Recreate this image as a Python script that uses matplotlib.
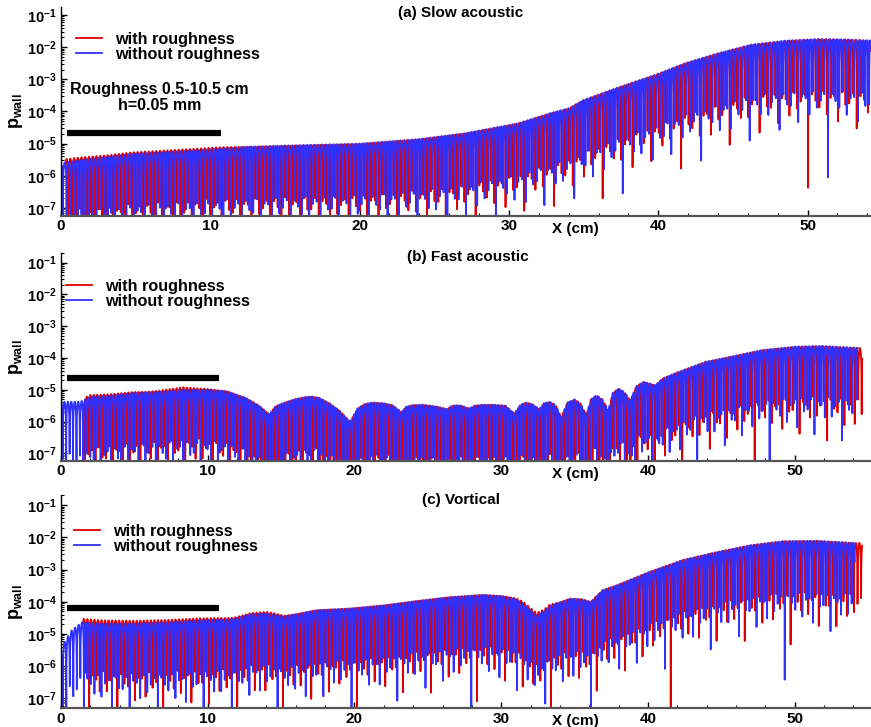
import numpy as np
import matplotlib
matplotlib.use('Agg')
import matplotlib.pyplot as plt
from matplotlib.ticker import MultipleLocator, FixedLocator, FuncFormatter, NullFormatter

plt.rcParams['font.family'] = ['Liberation Sans', 'DejaVu Sans']
plt.rcParams['font.weight'] = 'bold'
plt.rcParams['mathtext.fontset'] = 'custom'
plt.rcParams['mathtext.rm'] = 'Liberation Sans:bold'
plt.rcParams['mathtext.bf'] = 'Liberation Sans:bold'
plt.rcParams['mathtext.it'] = 'Liberation Sans:bold'

# peak envelope of |p_wall| without roughness (x in cm)
# (a) slow acoustic
xa = [0.0, 1.3, 4.8, 9.3, 12.7, 16.0, 19.9, 24.0, 27.0, 30.6, 32.8, 34.0, 35.0,
      37.3, 40.0, 41.8, 44.0, 46.2, 48.5, 50.7, 52.5, 54.6]
pa = [2.5e-6, 3.1e-6, 4.8e-6, 6.3e-6, 8.1e-6, 9e-6, 1.0e-5, 1.4e-5, 2.1e-5, 4.3e-5,
      9e-5, 1.26e-4, 2.3e-4, 5.6e-4, 1.5e-3, 3.2e-3, 6.5e-3, 1.2e-2, 1.6e-2, 1.8e-2,
      1.75e-2, 1.6e-2]

# (b) fast acoustic
xb = [0.0, 1.3, 2.0, 3.3, 4.9, 6.7, 8.3, 10.1, 11.3, 12.6, 13.5, 14.2, 14.6, 15.1, 16.0,
      16.7, 17.1, 17.6, 18.3, 19.0, 19.7, 20.2, 20.7, 21.2, 22.0, 22.6, 23.2, 23.5, 23.9,
      24.7, 25.6, 26.3, 26.6, 26.9, 27.3, 27.8, 28.2, 28.7, 29.5, 30.3, 30.9, 31.3, 31.7,
      32.1, 32.6, 32.9, 33.3, 33.7, 34.1, 34.5, 35.0, 35.4, 35.8, 36.1, 36.5, 36.9, 37.3,
      37.6, 38.0, 38.4, 38.8, 39.2, 39.7, 40.1, 40.5, 41.0, 42.1, 43.9, 46.0, 47.8, 50.1,
      51.8, 54.3]
pb = [4.2e-6, 4.2e-6, 6.0e-6, 6.5e-6, 7.9e-6, 8.6e-6, 1.0e-5, 1.0e-5, 9e-6, 5.6e-6,
      3.2e-6, 1.7e-6, 3.0e-6, 3.8e-6, 5.2e-6, 6.0e-6, 6.2e-6, 5.6e-6, 3.8e-6, 2.2e-6,
      1.0e-6, 2.6e-6, 3.6e-6, 4.0e-6, 3.8e-6, 3.3e-6, 2.0e-6, 2.9e-6, 3.3e-6, 3.4e-6,
      3.0e-6, 2.5e-6, 3.1e-6, 3.3e-6, 3.2e-6, 2.6e-6, 3.2e-6, 3.4e-6, 3.4e-6, 3.2e-6,
      1.8e-6, 3.4e-6, 4.0e-6, 3.6e-6, 2.5e-6, 3.8e-6, 4.2e-6, 3.4e-6, 1.4e-6, 4.0e-6,
      5.0e-6, 3.8e-6, 1.6e-6, 5.0e-6, 6.8e-6, 5.0e-6, 2.3e-6, 8.0e-6, 1.1e-5, 8.5e-6,
      4.7e-6, 1.3e-5, 1.8e-5, 1.6e-5, 1.4e-5, 2.3e-5, 3.7e-5, 7.6e-5, 1.2e-4, 1.8e-4,
      2.3e-4, 2.4e-4, 2.1e-4]

# (c) vortical
xc = [0.0, 0.16, 0.73, 1.4, 2.7, 4.9, 7.2, 9.5, 11.7, 12.9, 14.0, 15.2, 17.4, 19.7,
      22.0, 24.3, 26.5, 28.8, 30.1, 31.0, 31.5, 32.0, 32.4, 32.9, 33.3, 33.8, 34.7, 35.5,
      36.1, 36.9, 37.9, 40.1, 42.4, 44.7, 47.0, 49.2, 51.5, 54.1]
pc = [2e-6, 5e-6, 1.3e-5, 2.3e-5, 2.1e-5, 2.1e-5, 2.3e-5, 2.7e-5, 2.9e-5, 4.1e-5,
      4.4e-5, 3.5e-5, 5.5e-5, 6.2e-5, 7.8e-5, 1.07e-4, 1.4e-4, 1.65e-4, 1.5e-4, 1.2e-4,
      9e-5, 5.5e-5, 3.8e-5, 5e-5, 7.5e-5, 9e-5, 1.26e-4, 1.2e-4, 1.0e-4, 2.3e-4, 3.3e-4,
      8.5e-4, 2.0e-3, 3.5e-3, 5.7e-3, 7.6e-3, 7.8e-3, 6.7e-3]

# with roughness: start / end of the record and ratio to the smooth-wall peaks
red_span = {'a': (0.3, 54.6), 'b': (1.6, 54.6), 'c': (1.5, 54.6)}
blue_span = {'a': (0.0, 54.6), 'b': (0.0, 54.3), 'c': (0.0, 54.1)}
ratio_x = {'a': [0.3, 3.0, 10.5, 13.0, 54.6],
           'b': [1.6, 6.0, 8.3, 10.5, 12.5, 54.6],
           'c': [1.5, 10.5, 12.5, 14.5, 16.0, 30.0, 32.4, 34.0, 54.6]}
ratio_y = {'a': [1.25, 1.12, 1.12, 0.97, 0.97],
           'b': [1.15, 1.05, 1.2, 1.02, 0.98, 0.98],
           'c': [1.3, 1.12, 1.08, 1.12, 1.0, 1.0, 1.2, 1.0, 1.0]}

# half wavelength (cm) of the wall-pressure oscillation in each case
half_wave = {'a': 0.25, 'b': 0.235, 'c': 0.24}
# output points per half wavelength (blue, red)
pts_per_half = (62.618, 60.382)
decades = [-7, -6, -5, -4, -3, -2, -1]

panels = [
    ('a', '(a) Slow acoustic', xa, pa, 54.25, 2.1e-5),
    ('b', '(b) Fast acoustic', xb, pb, 55.2, 2.3e-5),
    ('c', '(c) Vortical', xc, pc, 55.2, 6.6e-5),
]
ylims = {'a': (10**-7.25, 10**-0.75), 'b': (10**-7.24, 10**-0.685), 'c': (10**-7.3, 10**-0.69)}
rects = {'a': [0.070, 0.703, 0.930, 0.2875],
         'b': [0.070, 0.366, 0.930, 0.2865],
         'c': [0.070, 0.026, 0.930, 0.293]}
title_pos = {'a': (0.494, 0.971), 'b': (0.502, 0.979), 'c': (0.494, 0.977)}
leg_pos = {'a': (0.018, 0.88), 'b': (0.006, 0.875), 'c': (0.016, 0.865)}


def wall_signal(xk, pk, span, rx, ry, lam, npts, phase):
    x = np.arange(span[0], span[1], lam / npts)
    env = 10 ** np.interp(x, xk, np.log10(pk)) * np.interp(x, rx, ry)
    return x, env * np.abs(np.cos(np.pi * x / lam + phase))


fig = plt.figure(figsize=(8.71, 7.27), dpi=100)

for key, title, xk, pk, xmax, bar_y in panels:
    ax = fig.add_axes(rects[key])
    lam = half_wave[key]
    x1, p1 = wall_signal(xk, pk, red_span[key], ratio_x[key], ratio_y[key],
                         lam * 1.0008, pts_per_half[1], np.pi / 2)
    x2, p2 = wall_signal(xk, pk, blue_span[key], [0, 60], [1, 1],
                         lam, pts_per_half[0], 0.0)
    ax.plot(x1, p1, color='#dd0000', lw=1.3, label='with roughness')
    ax.plot(x2, p2, color='#3030ff', lw=1.3, label='without roughness')

    # roughness strip
    ax.plot([0.4, 10.75], [bar_y, bar_y], color='black', lw=4.5, solid_capstyle='butt')

    ax.set_yscale('log')
    ax.set_xlim(0, xmax)
    ax.set_ylim(*ylims[key])

    ax.xaxis.set_major_locator(MultipleLocator(10))
    ax.xaxis.set_minor_locator(MultipleLocator(2))
    ax.xaxis.set_major_formatter(FuncFormatter(lambda v, p: '%d' % v))
    ax.yaxis.set_major_locator(FixedLocator([10.0 ** d for d in decades]))
    minors = [m * 10.0 ** d for d in [-8] + decades for m in range(2, 10)]
    minors = [v for v in minors if ylims[key][0] < v < ylims[key][1]]
    ax.yaxis.set_minor_locator(FixedLocator(minors))
    ax.yaxis.set_major_formatter(FuncFormatter(lambda v, p: r'$\mathbf{10^{%d}}$' % round(np.log10(v))))
    ax.yaxis.set_minor_formatter(NullFormatter())
    ax.tick_params(which='both', direction='in', labelsize=10.5, colors='black')
    ax.tick_params(which='major', length=4, width=1.0)
    ax.tick_params(which='minor', length=2.5, width=0.8)
    ax.tick_params(axis='x', pad=2.5, labelsize=11)
    ax.tick_params(axis='y', pad=3)

    ax.spines['top'].set_visible(False)
    ax.spines['right'].set_visible(False)
    ax.spines['bottom'].set_color('#555555')
    ax.spines['bottom'].set_linewidth(1.6)
    ax.spines['left'].set_linewidth(1.0)

    ax.set_ylabel(r'$\mathbf{p_{wall}}$', fontsize=13, labelpad=1)
    ax.annotate('X (cm)', xy=(0.635, 0), xycoords='axes fraction', xytext=(0, -9.5),
                textcoords='offset points', ha='center', va='center', fontsize=11,
                fontweight='bold')
    ax.text(*title_pos[key], title, transform=ax.transAxes, ha='center', va='center',
            fontsize=11, fontweight='bold')

    ax.legend(loc='upper left', bbox_to_anchor=leg_pos[key], frameon=False, fontsize=11.7,
              handlelength=1.6, handletextpad=0.8, labelspacing=0.0, borderpad=0,
              borderaxespad=0)

    if key == 'a':
        ax.text(0.122, 0.567, 'Roughness 0.5-10.5 cm\nh=0.05 mm', transform=ax.transAxes,
                ha='center', va='center', fontsize=11.5, fontweight='bold', linespacing=1.05)

fig.savefig('out.png', dpi=100)
